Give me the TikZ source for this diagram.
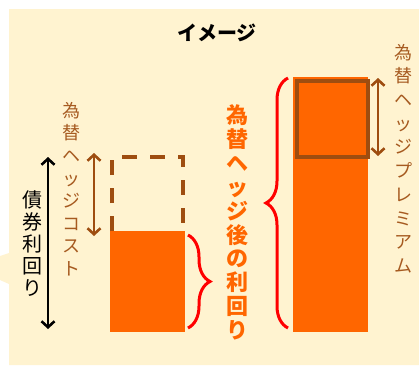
\documentclass[tikz,border=0pt]{standalone}
\usepackage{fontspec}
\newfontfamily\jp{Noto Sans CJK JP}
\usetikzlibrary{arrows.meta,decorations.pathreplacing}
\definecolor{bg}{HTML}{FFF3D0}
\definecolor{orng}{HTML}{FF6600}
\definecolor{brn}{HTML}{9E4D10}
\definecolor{brntxt}{HTML}{A65A20}
\definecolor{rd}{HTML}{FF0000}
\tikzset{
  bar/.style={fill=orng, draw=none, inner sep=0pt, anchor=north west},
  dbl/.style={line width=2.6pt, {Straight Barb[length=6pt,width=13pt]}-{Straight Barb[length=6pt,width=13pt]}},
  curly/.style={rd, line width=3pt, decorate, decoration={brace, amplitude=22pt}},
  vtext/.style={align=center, inner sep=0pt},
}
\begin{document}
\begin{tikzpicture}[x=1pt,y=-1pt]
\useasboundingbox (0,0) rectangle (419,365);
\fill[white] (0,0) rectangle (419,365);
\fill[bg] (9,9) -- (419,9) -- (419,365) -- (9,365) -- (9,284) -- (0,280) -- (0,256) -- (9,253) -- cycle;

% bars
\node[bar, minimum width=75pt, minimum height=101pt] (lbar) at (110,231) {};
\node[bar, minimum width=75pt, minimum height=255pt] (rbar) at (293,77) {};
\node[draw=brn, line width=4pt, inner sep=0pt, minimum width=71pt, minimum height=76pt, anchor=north west] (prem) at (295,79) {};
\draw[brn, line width=4pt, dash pattern=on 15pt off 13pt] (112,231) -- (112,157) -- (183,157) -- (183,231);

% arrows
\coordinate (bt) at (48,157); \coordinate (bb) at (48,329);
\draw[dbl, black] (bt) -- (bb);
\coordinate (ct) at (94,153); \coordinate (cb) at (94,236);
\draw[dbl, brn] (ct) -- (cb);
\coordinate (pt) at (378,78); \coordinate (pb) at (378,156);
\draw[dbl, brn] (pt) -- (pb);

% braces
\coordinate (s1) at (188,235); \coordinate (s2) at (188,328);
\draw[curly] (s1) -- (s2);
\coordinate (g1) at (288,328); \coordinate (g2) at (288,78);
\draw[curly] (g1) -- (g2);

% texts
\node[font=\jp\bfseries\fontsize{20}{24}\selectfont] (title) at (217,33) {イメージ};
\node[vtext, text=orng, font=\jp\bfseries\fontsize{22}{23.9}\selectfont] (after) at (237,222.5) {為\\替\\ヘ\\ッ\\ジ\\後\\の\\利\\回\\り};
\node[vtext, text=black, font=\jp\fontsize{20}{22}\selectfont] (bond) at (32,244) {債\\券\\利\\回\\り};
\node[vtext, text=brntxt, font=\jp\fontsize{18}{22.6}\selectfont] (cost) at (71,189) {為\\替\\ヘ\\ッ\\ジ\\コ\\ス\\ト};
\node[vtext, text=brntxt, font=\jp\fontsize{18}{23.7}\selectfont] (premt) at (403,158.5) {為\\替\\ヘ\\ッ\\ジ\\プ\\レ\\ミ\\ア\\ム};
\end{tikzpicture}
\end{document}
